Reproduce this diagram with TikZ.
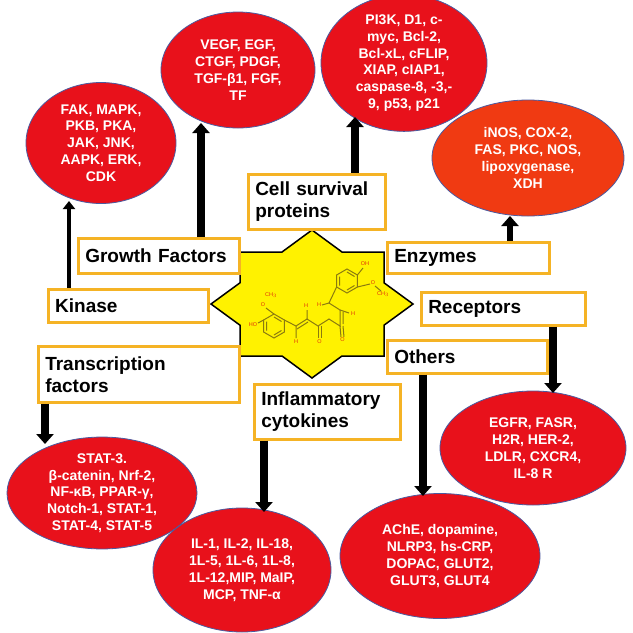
\documentclass[tikz,border=0pt]{standalone}
\usepackage{fontspec}
\setmainfont{Liberation Sans}
\usetikzlibrary{arrows.meta,shapes.geometric}
\definecolor{ellred}{HTML}{E8111B}
\definecolor{ellorange}{HTML}{F03A12}
\definecolor{ellborder}{HTML}{4A5AA0}
\definecolor{boxorange}{HTML}{F5B325}
\definecolor{starfill}{HTML}{FFF200}
\definecolor{molline}{HTML}{8A7A10}
\definecolor{molred}{HTML}{E0300A}
\tikzset{
  ell/.style={ellipse,fill=ellred,draw=ellborder,line width=0.8pt,text=white,font=\bfseries\fontsize{14}{16.8}\selectfont,align=center,inner sep=0pt},
  lbl/.style={rectangle,draw=boxorange,fill=white,line width=2.5pt,anchor=north west,font=\bfseries\fontsize{19}{22}\selectfont,align=left,inner xsep=7pt,inner ysep=0pt},
  arr/.style={line width=8pt,-{Triangle[width=17pt,length=10pt]}},
  thinarr/.style={line width=4.5pt,-{Triangle[width=12pt,length=8pt]}},
  mol/.style={molline,line width=1pt},
  atom/.style={text=molred,font=\fontsize{5.5}{5.5}\selectfont,inner sep=0.5pt}
}
\begin{document}
\begin{tikzpicture}[x=1pt,y=-1pt]
\useasboundingbox (0,0) rectangle (633,633);
\fill[white] (0,0) rectangle (633,633);
% ellipses
\node[ell,minimum width=150,minimum height=121] (kin) at (101,143) {FAK, MAPK,\\PKB, PKA,\\JAK, JNK,\\AAPK, ERK,\\CDK};
\node[ell,minimum width=154,minimum height=116] (gro) at (238,70) {VEGF, EGF,\\CTGF, PDGF,\\TGF-β1, FGF,\\TF};
\node[ell,minimum width=166,minimum height=124] (cel) at (404,63) {PI3K, D1, c-\\myc, Bcl-2,\\Bcl-xL, cFLIP,\\XIAP, cIAP1,\\caspase-8, -3,-\\9, p53, p21};
\node[ell,fill=ellorange,minimum width=192,minimum height=116] (enz) at (528,158) {iNOS, COX-2,\\FAS, PKC, NOS,\\lipoxygenase,\\XDH};
\node[ell,minimum width=190,minimum height=108] (tra) at (102,493) {STAT-3.\\β-catenin, Nrf-2,\\NF-κB, PPAR-γ,\\Notch-1, STAT-1,\\STAT-4, STAT-5};
\node[ell,minimum width=178,minimum height=124] (inf) at (242,570) {IL-1, IL-2, IL-18,\\1L-5, 1L-6, 1L-8,\\1L-12,MIP, MaIP,\\MCP, TNF-α};
\node[ell,minimum width=200,minimum height=125] (oth) at (440,556) {AChE, dopamine,\\NLRP3, hs-CRP,\\DOPAC, GLUT2,\\GLUT3, GLUT4};
\node[ell,minimum width=186,minimum height=114] (rec) at (533,448) {EGFR, FASR,\\H2R, HER-2,\\LDLR, CXCR4,\\IL-8 R};
% star
\fill[starfill,draw=black,line width=1.5pt,line join=miter,shift={(312,304)}]
 (0,-74)--(30,-52)--(72,-52)--(72,-21.2)--(101,0)--(72,21.2)--(72,52)--(30,52)--(0,74)--(-30,52)--(-72,52)--(-72,21.2)--(-101,0)--(-72,-21.2)--(-72,-52)--(-30,-52)--cycle;
% molecule
\draw[mol] (274,314)--(284.4,320)--(284.4,332)--(274,338)--(263.6,332)--(263.6,320)--cycle;
\draw[mol] (266.5,321.5)--(266.5,330.5) (274,335)--(281.5,330.5) (274,317)--(281.5,321.5);
\draw[mol] (347,269)--(357.4,275)--(357.4,287)--(347,293)--(336.6,287)--(336.6,275)--cycle;
\draw[mol] (339.5,276.5)--(339.5,285.5) (347,290)--(354.5,285.5) (347,272)--(354.5,276.5);
\draw[mol] (284.4,320)--(296,326)--(307,319)--(318,326)--(329,319)--(340,326)--(340,310)--(329,303)--(336.6,287);
\draw[mol] (297,329)--(308,322) (343,324)--(343,312);
\draw[mol] (318,326)--(318,338) (321,326)--(321,338);
\draw[mol] (340,326)--(341,337) (343,326)--(344,337);
\draw[mol] (263.6,320)--(258,323) (274,314)--(266,308) (357.4,275)--(363,268) (357.4,287)--(370,284) (375,286)--(381,291);
\draw[mol] (296,326)--(296,338) (307,319)--(307,310) (340,310)--(349,313) (329,303)--(322,305);
\node[atom] (o1) at (319.5,342) {O};
\node[atom] (o2) at (342.5,340) {O};
\node[atom] (ho) at (253,325) {HO};
\node[atom] (ome1) at (263,305) {O};
\node[atom] (me1) at (271,295) {CH$_3$};
\node[atom] (oh2) at (365,264) {OH};
\node[atom] (ome2) at (373,283) {O};
\node[atom] (me2) at (383,294) {CH$_3$};
\node[atom] (h1) at (296,342) {H};
\node[atom] (h2) at (306,306) {H};
\node[atom] (h3) at (353,314) {H};
\node[atom] (h4) at (319,305) {H};
% label boxes
\node[lbl,minimum height=55,text width=123] (bcel) at (247,173) {Cell survival\\proteins};
\node[lbl,minimum height=35,text width=147] (bgro) at (77,237) {Growth Factors};
\node[lbl,minimum height=31,text width=148] (benz) at (386,241) {Enzymes};
\node[lbl,minimum height=33,text width=146] (bkin) at (47,288) {Kinase};
\node[lbl,minimum height=33,text width=150] (brec) at (420,291) {Receptors};
\node[lbl,minimum height=56,text width=187] (btra) at (37,345) {Transcription\\factors};
\node[lbl,minimum height=55,text width=132] (binf) at (253,383) {Inflammatory\\cytokines};
\node[lbl,minimum height=33,text width=146] (both) at (386,339) {Others};
% arrows
\coordinate (akin) at (69,201);
\coordinate (agro) at (201,123);
\coordinate (acel) at (355,117);
\coordinate (aenz) at (510,216);
\coordinate (atra) at (45,444);
\coordinate (ainf) at (264,512);
\coordinate (aoth) at (423,496);
\coordinate (arec) at (553,393);
\draw[thinarr] (bkin.north -| akin) -- (akin);
\draw[arr] (bgro.north -| agro) -- (agro);
\draw[arr] (bcel.north -| acel) -- (acel);
\draw[arr,line width=6pt] (benz.north -| aenz) -- (aenz);
\draw[arr] (btra.south -| atra) -- (atra);
\draw[arr] (binf.south -| ainf) -- (ainf);
\draw[arr] (both.south -| aoth) -- (aoth);
\draw[arr] (brec.south -| arec) -- (arec);
\end{tikzpicture}
\end{document}
